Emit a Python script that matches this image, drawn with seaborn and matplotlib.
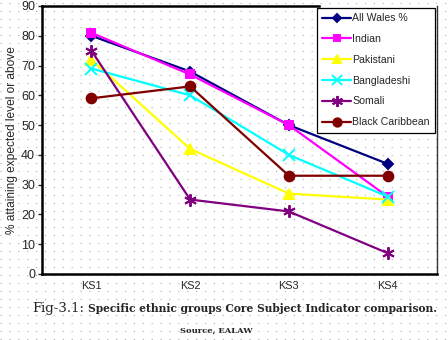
import matplotlib
matplotlib.use("Agg")
import matplotlib.pyplot as plt
import seaborn as sns
import pandas as pd
import numpy as np
from matplotlib.lines import Line2D

stages = ["KS1", "KS2", "KS3", "KS4"]
all_wales = [80, 68, 50, 37]
indian = [81, 67, 50, 26]
pakistani = [72, 42, 27, 25]
bangladeshi = [69, 60, 40, 26]
somali = [75, 25, 21, 7]
black_caribbean = [59, 63, 33, 33]

series = {
    "All Wales %": all_wales,
    "Indian": indian,
    "Pakistani": pakistani,
    "Bangladeshi": bangladeshi,
    "Somali": somali,
    "Black Caribbean": black_caribbean,
}
colors = {
    "All Wales %": "#000080",
    "Indian": "#FF00FF",
    "Pakistani": "#FFFF00",
    "Bangladeshi": "#00FFFF",
    "Somali": "#800080",
    "Black Caribbean": "#800000",
}
markers = {
    "All Wales %": "D",
    "Indian": "s",
    "Pakistani": "^",
    "Bangladeshi": "x",
    "Somali": (6, 2, 0),
    "Black Caribbean": "o",
}
sizes = {"All Wales %": 5, "Indian": 6, "Pakistani": 7, "Bangladeshi": 8,
         "Somali": 9, "Black Caribbean": 7}

sns.set_style("white")
plt.rcParams['font.family'] = ['Liberation Sans', 'DejaVu Sans']

fig = plt.figure(figsize=(4.48, 3.40), dpi=100)

# dotted background pattern
bg = fig.add_axes([0, 0, 1, 1], zorder=0)
bg.set_xlim(0, 448)
bg.set_ylim(340, 0)
for yy in np.arange(3, 340, 8):
    bg.axhline(yy, color="#b0b0b0", lw=0.8, ls=(0, (1, 7)))
bg.axis("off")

ax = fig.add_axes([42/448, 1-274/340, (437-42)/448, (274-6)/340], zorder=1)
ax.set_facecolor("none")

for name, vals in series.items():
    d = pd.DataFrame({"stage": range(len(stages)), "value": vals})
    sns.lineplot(data=d, x="stage", y="value", color=colors[name],
                 marker=markers[name], markersize=sizes[name],
                 markeredgecolor=colors[name], markerfacecolor=colors[name],
                 markeredgewidth=1.4, lw=1.6, ax=ax, legend=False)

ax.set_xlim(-0.5, 3.5)
ax.set_ylim(0, 90)
ax.set_yticks(range(0, 91, 10))
ax.set_xticks(range(4))
ax.set_xticklabels(stages)
ax.set_xticks([-0.5, 0.5, 1.5, 2.5, 3.5], minor=True)
ax.tick_params(axis="x", which="major", length=0, labelsize=7.8, pad=5)
ax.tick_params(axis="x", which="minor", length=4, width=1, direction="inout")
ax.tick_params(axis="y", length=3, width=1, labelsize=9, pad=2, direction="out", left=True)
ax.set_xlabel("")
ax.set_ylabel("% attaining expected level or above", fontsize=8.6, labelpad=2)

for s in ["left", "bottom", "top"]:
    ax.spines[s].set_linewidth(1.8)
    ax.spines[s].set_color("black")
ax.spines["top"].set_bounds(-0.5, 2.3)
ax.spines["right"].set_linewidth(1.0)
ax.spines["right"].set_color("#333333")

handles = [Line2D([], [], color=colors[n], marker=markers[n], markersize=sizes[n]-1,
                  markerfacecolor=colors[n], markeredgecolor=colors[n],
                  markeredgewidth=1.4, lw=1.6)
           for n in series]
leg = ax.legend(handles, list(series.keys()), loc="upper right",
                bbox_to_anchor=(0.995, 0.992), fontsize=7.6, frameon=True,
                fancybox=False, edgecolor="black", framealpha=1,
                handlelength=2.7, handletextpad=0.12, labelspacing=1.02,
                borderpad=0.5, borderaxespad=0)
leg.get_frame().set_linewidth(0.9)

fig.text(32/448, 0.094, "Fig-3.1:", fontsize=9.5, family="DejaVu Serif",
         ha="left", va="center")
fig.text(88/448, 0.094, "Specific ethnic groups Core Subject Indicator comparison.",
         fontsize=7.7, family="DejaVu Serif", fontweight="bold",
         ha="left", va="center")
fig.text(216/448, 0.029, "Source, EALAW", fontsize=6.0, family="DejaVu Serif",
         fontweight="bold", ha="center", va="center")

fig.savefig("out.png", dpi=100)
